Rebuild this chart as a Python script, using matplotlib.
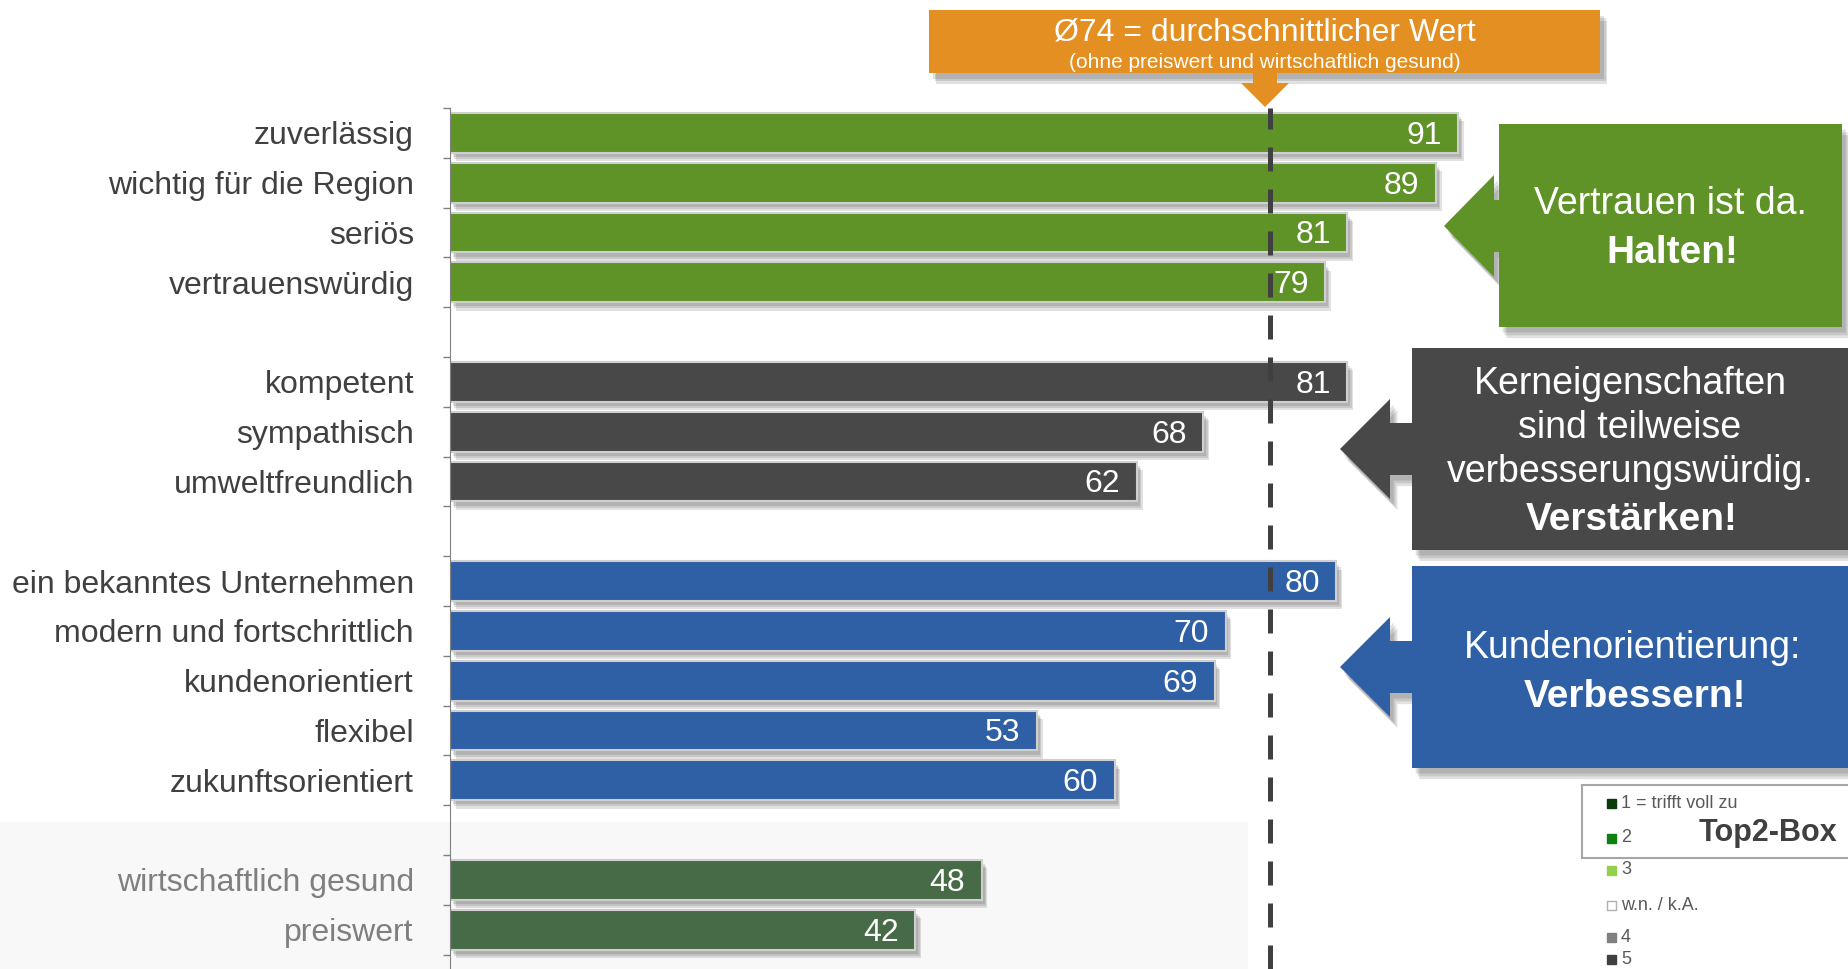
import matplotlib
matplotlib.use("Agg")
import numpy as np
import matplotlib.pyplot as plt
from matplotlib.patches import Polygon, Rectangle
import matplotlib.patheffects as pe

plt.rcParams['font.family'] = ['Liberation Sans', 'DejaVu Sans']

# --- data ---
trust_labels = ['zuverlässig', 'wichtig für die Region', 'seriös', 'vertrauenswürdig']
trust_values = [91, 89, 81, 79]
core_labels = ['kompetent', 'sympathisch', 'umweltfreundlich']
core_values = [81, 68, 62]
customer_labels = ['ein bekanntes Unternehmen', 'modern und fortschrittlich',
                   'kundenorientiert', 'flexibel', 'zukunftsorientiert']
customer_values = [80, 70, 69, 53, 60]
other_labels = ['wirtschaftlich gesund', 'preiswert']
other_values = [48, 42]
average = 74

legend_labels = ['1 = trifft voll zu', '2', '3', 'w.n. / k.A.', '4', '5']
legend_colors = ['#0b3d0b', '#0f7f0f', '#92d050', '#ffffff', '#808080', '#404040']

groups = [(trust_labels, trust_values, '#5f9328'),
          (core_labels, core_values, '#484848'),
          (customer_labels, customer_values, '#2f5fa4'),
          (other_labels, other_values, '#486b47')]

W, H = 1848, 969
fig = plt.figure(figsize=(W / 100, H / 100), dpi=100)

# background layer (pixel coords)
bg = fig.add_axes([0, 0, 1, 1], zorder=0)
bg.set_xlim(0, W)
bg.set_ylim(H, 0)
bg.axis('off')
bg.add_patch(Rectangle((0, 822), 1248, 150, color='#f8f8f8', lw=0))

# main bar axes
top_px, x0_px, x100_px, slot = 108, 450, 1558, 49.8
ax = fig.add_axes([x0_px / W, 0, (x100_px - x0_px) / W, (H - top_px) / H], zorder=1)
ax.patch.set_alpha(0)
ax.set_xlim(0, 100)
ax.set_ylim(-0.5 + (H - top_px) / slot, -0.5)


def soft_shadow(dx, dy, alpha):
    # a few stacked offsets to fake a blurred drop shadow
    fx = [pe.SimplePatchShadow(offset=(dx * k / 3, dy * k / 3), shadow_rgbFace='#303030', alpha=alpha)
          for k in (4, 3, 2)]
    return fx + [pe.Normal()]


bar_shadow = soft_shadow(3, -4.5, 0.14)

pos = 0
centers, labels, label_colors = [], [], []
for gi, (labs, vals, col) in enumerate(groups):
    ys = np.arange(pos, pos + len(vals))
    bars = ax.barh(ys, vals, height=0.8, color=col, edgecolor='#cfcfcf', linewidth=1.5, zorder=2)
    for b in bars:
        b.set_path_effects(bar_shadow)
    for y, v in zip(ys, vals):
        ax.text(v - 1.5, y + 0.06, str(v), ha='right', va='center', color='white', fontsize=23, zorder=4)
    centers += list(ys)
    labels += labs
    label_colors += ['#7f7f7f' if gi == 3 else '#404040'] * len(labs)
    pos += len(vals) + 1

ax.axvline(average, ymin=0, ymax=1.0, color='#404040', lw=3.6, ls=(0, (4.8, 3.6)),
           dash_capstyle='butt', zorder=3, clip_on=False)

ax.set_yticks(centers)
ax.set_yticklabels(labels, fontsize=23)
for t, c in zip(ax.get_yticklabels(), label_colors):
    t.set_color(c)
ax.set_yticks(np.arange(-0.5, pos - 0.5, 1), minor=True)
ax.tick_params(axis='y', which='major', length=0, pad=26)
ax.tick_params(axis='y', which='minor', length=5, color='#808080', width=1)
ax.set_xticks([])
for s in ['top', 'right', 'bottom']:
    ax.spines[s].set_visible(False)
ax.spines['left'].set_color('#808080')

# overlay layer (pixel coords)
fg = fig.add_axes([0, 0, 1, 1], zorder=2)
fg.patch.set_alpha(0)
fg.set_xlim(0, W)
fg.set_ylim(H, 0)
fg.axis('off')

box_shadow = soft_shadow(4, -6, 0.14)

# average label box with down arrow
orange = '#e48f22'
fg.add_patch(Rectangle((929, 10), 671, 63, color=orange, lw=0, path_effects=box_shadow))
fg.add_patch(Polygon([(1253, 72), (1277, 72), (1277, 83), (1289, 83), (1265, 107),
                      (1241, 83), (1253, 83)], closed=True, color=orange, lw=0))
fg.text(1265, 32, 'Ø74 = durchschnittlicher Wert', ha='center', va='center', color='white', fontsize=23)
fg.text(1265, 62, '(ohne preiswert und wirtschaftlich gesund)', ha='center', va='center',
        color='white', fontsize=15)


def callout(x1, x2, y1, y2, tip_x, head_x, tip_y, head_h, stem_h, col):
    pts = [(x1, y1), (x2, y1), (x2, y2), (x1, y2),
           (x1, tip_y + stem_h), (head_x, tip_y + stem_h), (head_x, tip_y + head_h),
           (tip_x, tip_y),
           (head_x, tip_y - head_h), (head_x, tip_y - stem_h), (x1, tip_y - stem_h)]
    fg.add_patch(Polygon(pts, closed=True, color=col, lw=0, path_effects=box_shadow))


callout(1499, 1842, 124, 327, 1444, 1494, 226, 51, 26, '#5f9328')
fg.text(1670, 204, 'Vertrauen ist da.', ha='center', va='center', color='white', fontsize=27)
fg.text(1672, 253, 'Halten!', ha='center', va='center', color='white', fontsize=28, fontweight='bold')

callout(1412, 1852, 348, 550, 1340, 1390, 449, 50, 26, '#484848')
fg.text(1630, 384, 'Kerneigenschaften', ha='center', va='center', color='white', fontsize=27)
fg.text(1630, 428, 'sind teilweise', ha='center', va='center', color='white', fontsize=27)
fg.text(1630, 472, 'verbesserungswürdig.', ha='center', va='center', color='white', fontsize=27)
fg.text(1632, 520, 'Verstärken!', ha='center', va='center', color='white', fontsize=28, fontweight='bold')

callout(1412, 1852, 566, 768, 1340, 1390, 667, 50, 26, '#2f5fa4')
fg.text(1633, 648, 'Kundenorientierung:', ha='center', va='center', color='white', fontsize=27)
fg.text(1635, 697, 'Verbessern!', ha='center', va='center', color='white', fontsize=28, fontweight='bold')

# scale legend (bottom rows run into the lower edge)
fg.add_patch(Rectangle((1582, 785), 270, 73, facecolor='white', edgecolor='#a6a6a6', lw=1.5))
leg_y = [803, 838, 870, 905, 937, 959]
for y, lab, c in zip(leg_y, legend_labels, legend_colors):
    fg.add_patch(Rectangle((1607, y - 4), 9, 9, facecolor=c,
                           edgecolor='#b0b0b0' if c == '#ffffff' else c, lw=1))
    fg.text(1621, y, lab, ha='left', va='center', color='#595959', fontsize=13)
fg.text(1768, 833, 'Top2-Box', ha='center', va='center', color='#404040', fontsize=22, fontweight='bold')

fig.savefig('out.png', dpi=100)
